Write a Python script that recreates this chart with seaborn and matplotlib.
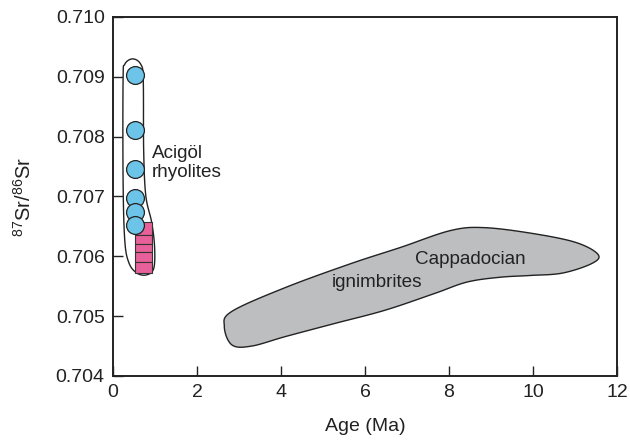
import numpy as np
import pandas as pd
import matplotlib
matplotlib.use("Agg")
import matplotlib.pyplot as plt
import seaborn as sns

# ---- data ----
rhyolite_age = [0.52, 0.52, 0.52, 0.52, 0.52, 0.52]
rhyolite_sr = [0.70903, 0.70811, 0.70746, 0.70697, 0.70674, 0.70652]

# pink boxes (stacked), age centre and Sr ranges
box_age = 0.73
box_bottom = [0.70636, 0.70621, 0.70607, 0.70591, 0.70572]
box_top = [0.70657, 0.70636, 0.70621, 0.70607, 0.70591]

# Acigöl envelope outline (age, Sr)
acigol_env_x = [0.47, 0.66, 0.72, 0.73, 0.78, 0.92, 0.99, 0.97, 0.80, 0.57, 0.38, 0.28, 0.24, 0.24, 0.28]
acigol_env_y = [0.70930, 0.70921, 0.70895, 0.70778, 0.70702, 0.70657, 0.70616, 0.70580, 0.70569,
                0.70572, 0.70589, 0.70627, 0.70728, 0.70895, 0.70921]

# Cappadocian ignimbrites field outline (age, Sr)
capp_x = [2.65, 2.83, 4.11, 5.67, 6.85, 8.03, 8.83, 10.01, 11.03, 11.55, 11.40, 10.70, 9.93, 9.21, 8.43, 7.66, 6.48, 5.29, 4.11, 3.30, 2.83]
capp_y = [0.70483, 0.70508, 0.70548, 0.70588, 0.70615, 0.70643, 0.70648, 0.70638, 0.70623, 0.70603, 0.70588, 0.70572, 0.70568, 0.70565, 0.70557, 0.70538, 0.70510, 0.70488, 0.70466, 0.70450, 0.70452]

xticks = [0, 2, 4, 6, 8, 10, 12]
yticks = [0.704, 0.705, 0.706, 0.707, 0.708, 0.709, 0.710]


def closed_catmull(xs, ys, n=30):
    pts = np.column_stack([xs, ys]).astype(float)
    out = []
    m = len(pts)
    for i in range(m):
        p0, p1, p2, p3 = pts[(i - 1) % m], pts[i], pts[(i + 1) % m], pts[(i + 2) % m]
        t = np.linspace(0, 1, n, endpoint=False)[:, None]
        seg = 0.5 * ((2 * p1) + (-p0 + p2) * t + (2 * p0 - 5 * p1 + 4 * p2 - p3) * t ** 2
                     + (-p0 + 3 * p1 - 3 * p2 + p3) * t ** 3)
        out.append(seg)
    out = np.vstack(out)
    return out[:, 0], out[:, 1]


sns.set_theme(style="ticks")
plt.rcParams['font.family'] = ['Liberation Sans', 'DejaVu Sans']
plt.rcParams['mathtext.fontset'] = 'custom'
plt.rcParams['mathtext.rm'] = 'Liberation Sans'
plt.rcParams['mathtext.it'] = 'Liberation Sans'

fig = plt.figure(figsize=(6.3, 4.42), dpi=100)
ax = fig.add_axes([113 / 630, 1 - 376 / 442, (617 - 113) / 630, (376 - 17) / 442])

# ignimbrite field
cx, cy = closed_catmull(capp_x, capp_y)
ax.fill(cx, cy, facecolor="#bcbec0", edgecolor="#222222", linewidth=1.0, zorder=2)

# Acigöl envelope
ex, ey = closed_catmull(acigol_env_x, acigol_env_y)
ax.fill(ex, ey, facecolor="white", edgecolor="#222222", linewidth=1.0, zorder=2)

# pink boxes
heights = np.array(box_top) - np.array(box_bottom)
ax.bar([box_age] * len(box_bottom), heights, bottom=box_bottom, width=0.42,
       color="#e8609a", edgecolor="#333333", linewidth=0.8, zorder=3)

# rhyolite circles
df = pd.DataFrame({"age": rhyolite_age, "sr": rhyolite_sr})
sns.scatterplot(data=df, x="age", y="sr", ax=ax, s=165, color="#6cc5e8",
                edgecolor="#222222", linewidth=0.9, zorder=4)

ax.text(0.93, 0.70756, "Acigöl\nrhyolites", fontsize=13.6, ha="left", va="center",
        linespacing=1.2, color="#222222", zorder=5)
ax.text(7.2, 0.70594, "Cappadocian", fontsize=13.6, ha="left", va="center", color="#222222", zorder=5)
ax.text(5.2, 0.70556, "ignimbrites", fontsize=13.6, ha="left", va="center", color="#222222", zorder=5)

ax.set_xlim(0, 12)
ax.set_ylim(0.704, 0.710)
ax.set_xticks(xticks)
ax.set_yticks(yticks)
ax.set_yticklabels([f"{v:.3f}" for v in yticks])
ax.tick_params(direction="in", length=7, width=1.0, labelsize=14, colors="#222222", pad=6)
for s in ax.spines.values():
    s.set_linewidth(1.4)
    s.set_color("#222222")
ax.set_xlabel("Age (Ma)", fontsize=14, color="#222222", labelpad=12)
ax.set_ylabel(r"$^{87}$Sr/$^{86}$Sr", fontsize=14.5, color="#222222", labelpad=15)

fig.savefig("out.png", dpi=100)
